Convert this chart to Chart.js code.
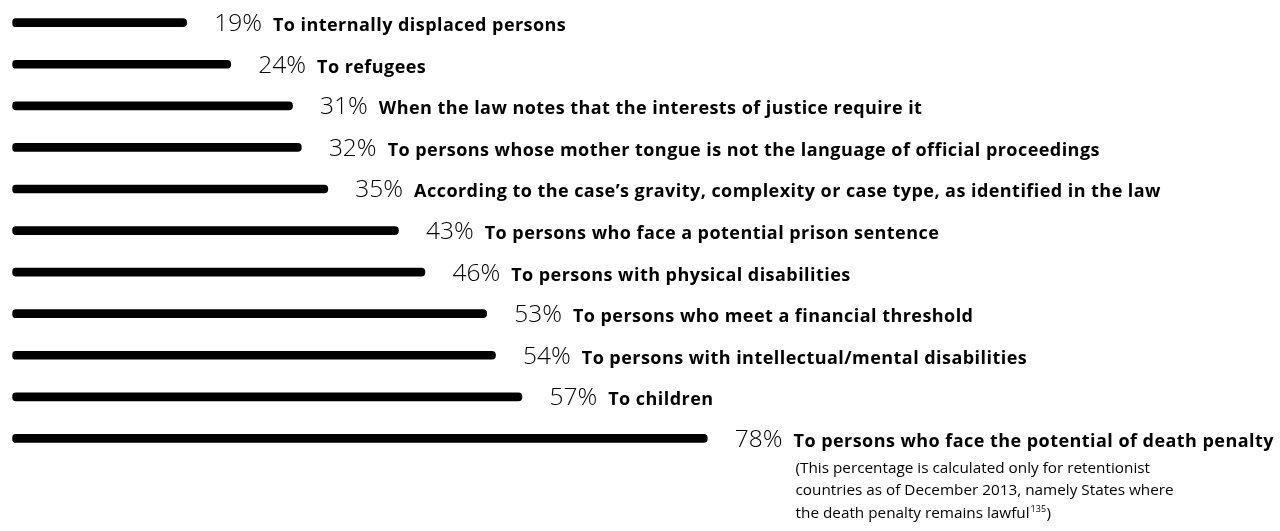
<!DOCTYPE html>
<html><head><meta charset="utf-8">
<script src="https://cdn.jsdelivr.net/npm/chart.js@4.4.1/dist/chart.umd.min.js"></script>
<style>html,body{margin:0;padding:0;background:#fff;}canvas{display:block;}</style>
</head><body>
<canvas id="c" width="1280" height="531"></canvas>
<script>
const categories = [
  "To internally displaced persons",
  "To refugees",
  "When the law notes that the interests of justice require it",
  "To persons whose mother tongue is not the language of official proceedings",
  "According to the case\u2019s gravity, complexity or case type, as identified in the law",
  "To persons who face a potential prison sentence",
  "To persons with physical disabilities",
  "To persons who meet a financial threshold",
  "To persons with intellectual/mental disabilities",
  "To children",
  "To persons who face the potential of death penalty"
];
const values = [19, 24, 31, 32, 35, 43, 46, 53, 54, 57, 78];
const noteLines = [
  "(This percentage is calculated only for retentionist",
  "countries as of December 2013, namely States where",
  "the death penalty remains lawful"
];
const noteSup = "135";
const noteEnd = ")";

const PCT_FONT = '300 24.5px "Open Sans"';
const LABEL_FONT = 'bold 18px "Open Sans"';
const NOTE_FONT = '15.3px "Open Sans"';
const SUP_FONT = '9px "Open Sans"';

const labelPlugin = {
  id: 'labels',
  afterDatasetsDraw(chart) {
    const ctx = chart.ctx;
    const meta = chart.getDatasetMeta(0);
    ctx.save();
    ctx.fillStyle = '#000';
    ctx.textBaseline = 'alphabetic';
    let lastLabelX = 0, lastBase = 0;
    meta.data.forEach((bar, i) => {
      const base = bar.y + 8.5;
      const px = bar.x + 27.5;
      ctx.letterSpacing = '0px';
      ctx.font = PCT_FONT;
      const pct = values[i] + '%';
      ctx.fillText(pct, px, base);
      const w = ctx.measureText(pct).width;
      ctx.font = LABEL_FONT;
      ctx.letterSpacing = '0.45px';
      const lx = px + w + 11;
      ctx.fillText(categories[i], lx, base);
      lastLabelX = lx; lastBase = base;
    });
    ctx.letterSpacing = '0px';
    ctx.font = NOTE_FONT;
    const nx = lastLabelX + 2;
    noteLines.forEach((t, j) => {
      const y = lastBase + 26 + j * 22.5;
      ctx.font = NOTE_FONT;
      ctx.fillText(t, nx, y);
      if (j === noteLines.length - 1) {
        let x = nx + ctx.measureText(t).width + 1;
        ctx.font = SUP_FONT;
        ctx.fillText(noteSup, x, y - 6);
        x += ctx.measureText(noteSup).width + 0.5;
        ctx.font = NOTE_FONT;
        ctx.fillText(noteEnd, x, y);
      }
    });
    ctx.restore();
  }
};

new Chart(document.getElementById('c'), {
  type: 'bar',
  data: {
    labels: categories,
    datasets: [{
      data: values,
      backgroundColor: '#000',
      barThickness: 8,
      borderRadius: 4,
      borderSkipped: false,
      base: -0.76
    }]
  },
  options: {
    indexAxis: 'y',
    responsive: false,
    animation: false,
    layout: { padding: { left: 12.3, right: 0, top: 1.9, bottom: 71.8 } },
    scales: {
      x: { type: 'linear', min: -0.76, max: 142.9, display: false },
      y: { display: false }
    },
    plugins: { legend: { display: false }, tooltip: { enabled: false } }
  },
  plugins: [labelPlugin]
});
</script>
</body></html>
